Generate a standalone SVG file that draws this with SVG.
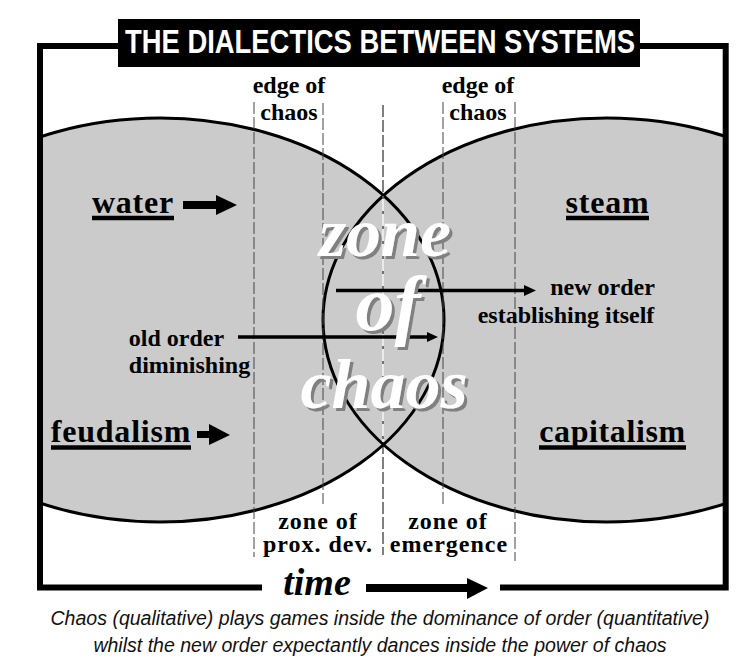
<svg xmlns="http://www.w3.org/2000/svg" width="752" height="671" viewBox="0 0 752 671">
<style>
.s{font-family:"Liberation Serif",serif;font-weight:bold;fill:#000;text-anchor:middle}
.l{font-size:24px}
.m{font-size:24px;letter-spacing:1px}
.b{font-size:32px;letter-spacing:.8px}
.u{fill:none;stroke:#000;stroke-width:4.500}
.d{fill:none;stroke:#444;stroke-width:1;stroke-dasharray:12 3}
.z{font-family:"Liberation Serif",serif;font-weight:bold;font-style:italic;font-size:70px;text-anchor:middle;fill:#fff;filter:url(#sh)}
.cap{font-family:"Liberation Sans",sans-serif;font-style:italic;font-size:19.550px;fill:#111;text-anchor:middle}
.ar{fill:none;stroke:#000;stroke-width:3.500}
</style>
<defs>
<clipPath id="c"><rect x="41" y="49" width="683" height="540"/></clipPath>
<filter id="sh" x="-20%" y="-20%" width="140%" height="140%"><feDropShadow dx="3" dy="3" stdDeviation="0.600" flood-color="#808080"/></filter>
</defs>
<rect width="752" height="671" fill="#fff"/>
<g id="ellipses" clip-path="url(#c)">
<ellipse cx="160" cy="320" rx="284" ry="202" fill="#cbcbcb"/>
<ellipse cx="607" cy="320" rx="284" ry="202" fill="#cbcbcb"/>
<ellipse cx="160" cy="320" rx="284" ry="202" fill="none" stroke="#000" stroke-width="3"/>
<ellipse cx="607" cy="320" rx="284" ry="202" fill="none" stroke="#000" stroke-width="3"/>
</g>
<g id="frame">
<path d="M120 46H40V587.500H262M500 587.500H725.700V46H640" fill="none" stroke="#000" stroke-width="6"/>
</g>
<g id="connectors">
<path class="d" d="M254 102V557"/>
<path class="d" d="M323 103V504"/>
<path class="d" d="M383 105V196" style="stroke:#000"/>
<path class="d" d="M383 442V555" style="stroke:#000"/>
<path d="M383 196V442" fill="none" stroke="#fff" stroke-width="1.200"/>
<path d="M383 196V442" fill="none" stroke="#222" stroke-width="1.200" stroke-dasharray="3 12"/>
<path class="d" d="M443 102V504"/>
<path class="d" d="M515 102V561"/>
<path class="ar" d="M336 290.500H525"/><path d="M524 285L536 290.500L524 296Z"/>
<path class="ar" d="M238 337H428"/><path d="M427 332L438 337L427 342Z"/>
<path d="M183 201H216V195L237 205L216 215V209H183Z"/>
<path d="M197 431H209V424L230 435L209 445V438H197Z"/>
<path d="M366 584H467V578L488 588L467 599V592H366Z"/>
</g>
<g id="title">
<rect x="118" y="19" width="522" height="48"/>
<text x="380" y="53" font-family="Liberation Sans,sans-serif" font-weight="bold" font-size="33" fill="#fff" text-anchor="middle" textLength="510" lengthAdjust="spacingAndGlyphs">THE DIALECTICS BETWEEN SYSTEMS</text>
</g>
<g id="labels">
<text class="s l" x="289" y="93">edge of</text>
<text class="s l" x="289" y="120">chaos</text>
<text class="s l" x="478" y="93">edge of</text>
<text class="s l" x="478" y="120">chaos</text>
<text class="s b" x="133" y="213">water</text><path class="u" d="M92 218H174"/>
<text class="s b" x="607.500" y="213">steam</text><path class="u" d="M566 218H649"/>
<text class="s b" x="121" y="442">feudalism</text><path class="u" d="M51 447.500H191"/>
<text class="s b" x="612.500" y="442" style="letter-spacing:.6px">capitalism</text><path class="u" d="M539 447.500H686"/>
<text class="s l" x="602.500" y="295">new order</text>
<text class="s l" x="566" y="323">establishing itself</text>
<text class="s l" x="176.500" y="346">old order</text>
<text class="s l" x="189.500" y="373">diminishing</text>
<text class="s m" x="318" y="529">zone of</text>
<text class="s m" x="318" y="552">prox. dev.</text>
<text class="s m" x="448" y="529">zone of</text>
<text class="s m" x="449" y="552">emergence</text>
<text x="317" y="595" font-family="Liberation Serif,serif" font-weight="bold" font-style="italic" font-size="38" text-anchor="middle">time</text>
</g>
<g id="zone">
<text class="z" x="385" y="256">zone</text>
<text class="z" x="388" y="330" style="font-size:78px">of</text>
<text class="z" x="384" y="408">chaos</text>
</g>
<g id="caption">
<text class="cap" x="380" y="625">Chaos (qualitative) plays games inside the dominance of order (quantitative)</text>
<text class="cap" x="380" y="652">whilst the new order expectantly dances inside the power of chaos</text>
</g>
</svg>
